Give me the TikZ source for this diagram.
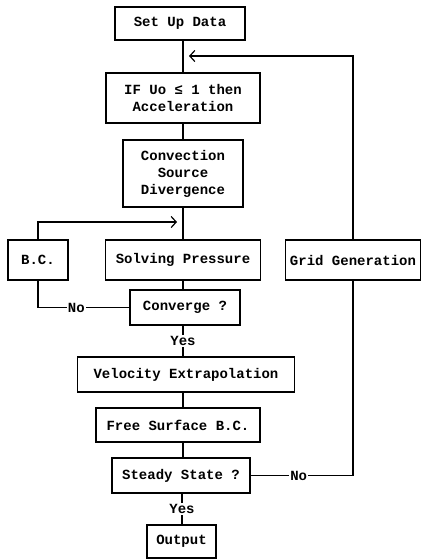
\documentclass[tikz,border=0pt]{standalone}
\usepackage{fontspec}
\setmonofont{Liberation Mono}
\usepackage{tikz}
\usetikzlibrary{arrows.meta}
\tikzset{
  box/.style={draw,line width=1.2pt,align=center,inner sep=2pt,font=\ttfamily\bfseries\fontsize{14}{17}\selectfont},
  lbl/.style={fill=white,inner sep=1pt,font=\ttfamily\bfseries\fontsize{14}{17}\selectfont},
  line/.style={line width=1.2pt},
  >={Straight Barb[length=5pt,width=11pt]}
}
\begin{document}
\begin{tikzpicture}[x=1pt,y=-1pt]
      \useasboundingbox (0,0) rectangle (422,560);
      \node[box,minimum width=130pt,minimum height=33pt] (setup) at (180,23.5) {Set Up\ Data};
      \node[box,minimum width=154pt,minimum height=50pt] (ifacc) at (183,98) {IF Uo ≤ 1 then\\Acceleration};
      \node[box,minimum width=120pt,minimum height=67pt] (conv) at (183,173.5) {Convection\\Source\\Divergence};
      \node[box,minimum width=155pt,minimum height=40pt] (solve) at (183,260) {Solving Pressure};
      \node[box,minimum width=60pt,minimum height=40pt] (bc) at (38,260) {B.C.};
      \node[box,minimum width=135pt,minimum height=40pt] (grid) at (353,260) {Grid Generation};
      \node[box,minimum width=110pt,minimum height=35pt] (check) at (185,307.5) {Converge ?};
      \node[box,minimum width=217pt,minimum height=35pt] (vel) at (186,374.5) {Velocity Extrapolation};
      \node[box,minimum width=164pt,minimum height=34pt] (free) at (178,425) {Free Surface B.C.};
      \node[box,minimum width=138pt,minimum height=35pt] (steady) at (181,475.5) {Steady State ?};
      \node[box,minimum width=69pt,minimum height=33pt] (out) at (181.5,541.5) {Output};
      \coordinate (top) at (189,56);
      \draw[line] (setup.south -| 183,0) -- (ifacc.north -| 183,0);
      \draw[line] (ifacc.south -| 183,0) -- (conv.north -| 183,0);
      \draw[line] (conv.south -| 183,0) -- (solve.north -| 183,0);
      \draw[line] (solve.south -| 183,0) -- (check.north -| 183,0);
      \draw[line] (check.south -| 183,0) -- node[lbl] {Yes} (vel.north -| 183,0);
      \draw[line] (vel.south -| 183,0) -- (free.north -| 183,0);
      \draw[line] (free.south -| 183,0) -- (steady.north -| 183,0);
      \draw[line] (steady.south -| 182,0) -- node[lbl] {Yes} (out.north -| 182,0);
      \draw[line] (check.west) -- node[lbl,pos=0.58] {No} (check.west -| bc.south) -- (bc.south);
      \draw[line,->] (bc.north) -- (bc.north |- 0,222) -- (177,222);
      \draw[line] (steady.east) -- node[lbl,pos=0.47] {No} (steady.east -| grid.south) -- (grid.south);
      \draw[line,->] (grid.north) -- (grid.north |- top) -- (top);
\end{tikzpicture}
\end{document}
